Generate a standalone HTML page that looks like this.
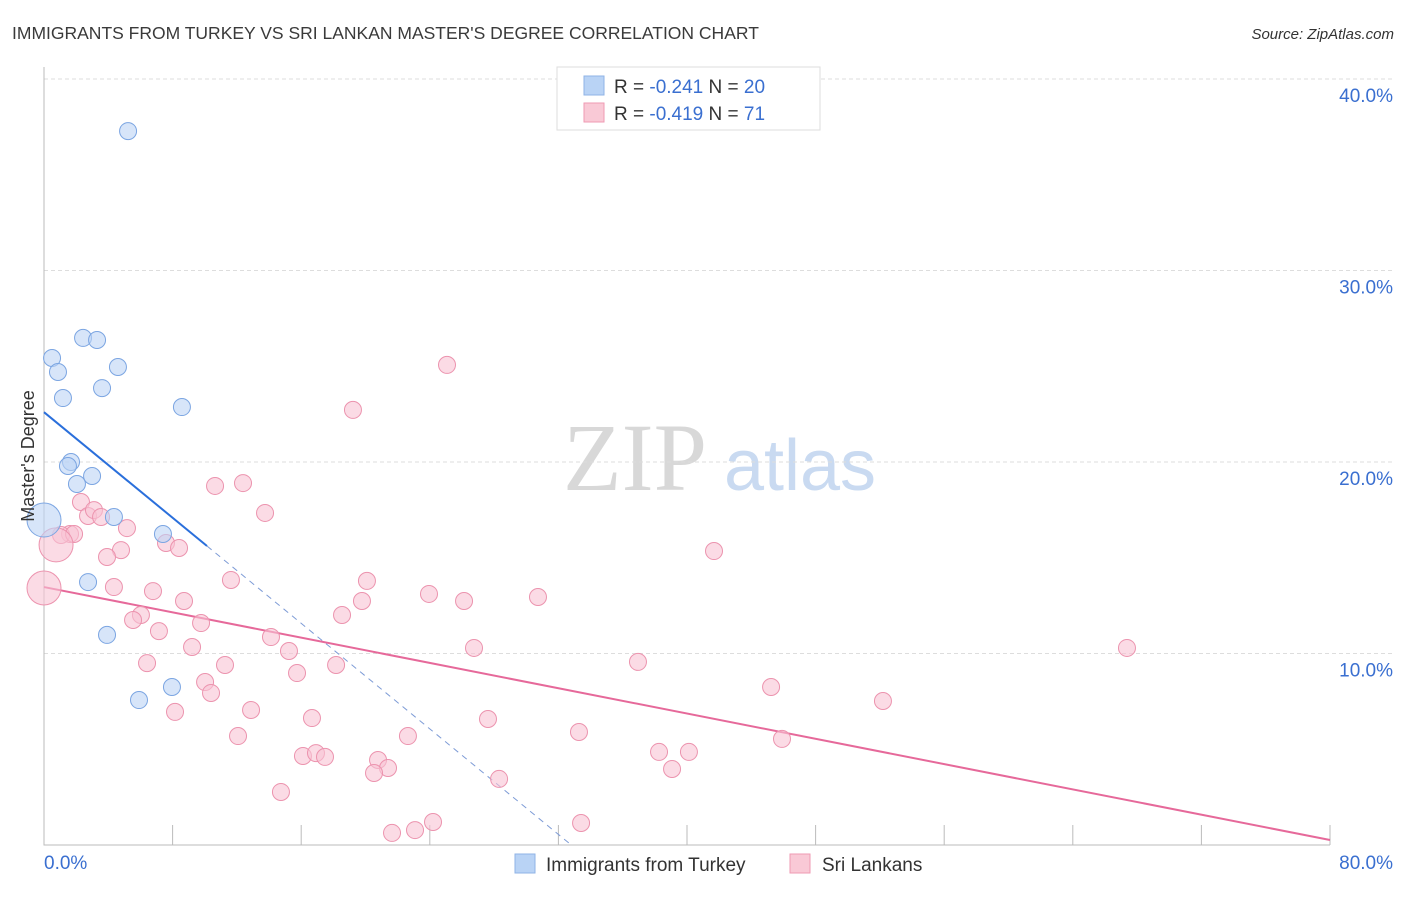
<!DOCTYPE html>
<html><head><meta charset="utf-8"><style>
body{margin:0;background:#fff;width:1406px;height:892px;overflow:hidden;font-family:"Liberation Sans",sans-serif}
</style></head><body>
<svg id="chart" width="1406" height="892" xmlns="http://www.w3.org/2000/svg" font-family="Liberation Sans, sans-serif">
<text x="12" y="39" font-size="17.5" fill="#3a3a3a">IMMIGRANTS FROM TURKEY VS SRI LANKAN MASTER'S DEGREE CORRELATION CHART</text>
<text x="1394" y="39" font-size="15" font-style="italic" fill="#333" text-anchor="end">Source: ZipAtlas.com</text>
<g>
<text x="635" y="490" font-size="96" font-family="Liberation Serif, serif" fill="#d8d8d8" text-anchor="middle">ZIP</text>
<text x="800" y="490" font-size="72" fill="#c9daf1" text-anchor="middle">atlas</text>
</g>
<g id="grid"></g><g id="axes"></g><g id="lines"></g><g id="pts"></g>
<g>
<rect x="557" y="67" width="263" height="63" fill="#fff" stroke="#ddd"/>
<rect x="584" y="76" width="20" height="19" fill="#b9d3f5" stroke="#8fb3e6"/>
<rect x="584" y="103" width="20" height="19" fill="#f9c9d6" stroke="#ef9ab3"/>
<text x="614" y="93" font-size="19" fill="#333">R = <tspan fill="#3a6fd0">-0.241</tspan>   N = <tspan fill="#3a6fd0">20</tspan></text>
<text x="614" y="120" font-size="19" fill="#333">R = <tspan fill="#3a6fd0">-0.419</tspan>   N =  <tspan fill="#3a6fd0">71</tspan></text>
</g>
<g>
<rect x="515" y="854" width="20" height="19" fill="#b9d3f5" stroke="#8fb3e6"/>
<text x="546" y="871" font-size="19" fill="#333">Immigrants from Turkey</text>
<rect x="790" y="854" width="20" height="19" fill="#f9c9d6" stroke="#ef9ab3"/>
<text x="822" y="871" font-size="19" fill="#333">Sri Lankans</text>
</g>
<text transform="translate(34,456) rotate(-90)" font-size="18" fill="#333" text-anchor="middle">Master's Degree</text>
</svg>
<script>
const yTicks=[10,20,30,40];
const yTickLabels=["10.0%","20.0%","30.0%","40.0%"];
const xTickLabels=["0.0%","80.0%"];
const turkeyX=[5.23,0.50,2.43,3.30,0.87,4.60,1.18,3.61,8.58,1.68,1.49,2.99,2.05,4.35,7.40,2.74,3.92,7.96,5.91,0.0];
const turkeyY=[37.28,25.43,26.48,26.37,24.70,24.96,23.34,23.86,22.87,20.00,19.79,19.27,18.85,17.13,16.24,13.73,10.97,8.25,7.57,16.97];
const turkeyBig=[19];
const sriX=[25.07,19.22,12.38,10.64,13.75,2.30,2.74,3.11,3.55,5.16,1.62,1.06,1.87,0.75,0.0,7.59,8.40,4.79,3.92,41.68,11.63,20.09,6.78,4.35,23.95,8.71,19.78,26.13,30.73,6.03,5.54,18.54,9.77,7.15,14.12,15.24,9.21,26.75,18.17,6.41,11.26,36.95,67.37,15.74,10.02,10.39,45.23,52.19,12.88,8.15,16.67,27.62,12.07,22.64,33.28,16.11,16.92,17.48,20.78,21.40,20.53,38.26,40.12,39.07,45.91,28.31,14.74,24.20,23.08,21.65,33.41];
const sriY=[25.07,22.72,18.90,18.75,17.34,17.91,17.18,17.49,17.13,16.55,16.24,16.19,16.24,15.67,13.42,15.77,15.51,15.40,15.04,15.35,13.84,13.79,13.26,13.47,13.11,12.74,12.74,12.74,12.95,12.01,11.75,12.01,11.59,11.17,10.86,10.13,10.34,10.29,9.40,9.50,9.40,9.56,10.29,8.98,8.51,7.94,8.25,7.52,7.05,6.95,6.63,6.58,5.69,5.69,5.90,4.65,4.80,4.60,4.44,4.02,3.76,4.86,4.86,3.97,5.54,3.45,2.77,1.20,0.78,0.63,1.15];
const sriBig=[13,14];
const turkeyTrend=[22.6,-0.689];
const sriTrend=[13.47,-0.1651];
const X=v=>44+v/80*1286, Y=v=>845-v*19.15;
const NS="http://www.w3.org/2000/svg";
function mk(p,t,a){const e=document.createElementNS(NS,t);for(const k in a)e.setAttribute(k,a[k]);document.getElementById(p).appendChild(e);return e;}
yTicks.forEach((t,i)=>{
 const g=mk('grid','line',{x1:44,x2:1393,y1:Y(t),y2:Y(t),stroke:'#ddd','stroke-dasharray':'4,3'});
 
 
 const l=mk('grid','text',{x:1393,y:Y(t)+23,'font-size':19,fill:'#3a6fd0','text-anchor':'end'});
 l.textContent=yTickLabels[i];
 
 
});
const ax=mk('axes','path',{d:'M44 67V845H1330',stroke:'#bbb',fill:'none'});


for(let i=1;i<=10;i++){const t=mk('axes','line',{x1:X(i*8),x2:X(i*8),y1:825,y2:845,stroke:'#bbb'});
 
 }
[[0,'start',44],[1,'end',1393]].forEach(([i,a,x])=>{const t=mk('axes','text',{x:x,y:869,'font-size':19,fill:'#3a6fd0','text-anchor':a});t.textContent=xTickLabels[i];
 
 });
function pts(xs,ys,big,fill,stroke,name){xs.forEach((x,i)=>{const r=big.includes(i)?17:8.5;
 const c=mk('pts','circle',{cx:X(x),cy:Y(ys[i]),r:r,fill:fill,'fill-opacity':0.6,stroke:stroke,'stroke-width':1});
 
 });}
pts(sriX,sriY,sriBig,'#f9c3d3','#ec93ae','sri-lankan-point');
pts(turkeyX,turkeyY,turkeyBig,'#bcd4f5','#7ba5e2','turkey-point');
const x0=10.14,xe=-turkeyTrend[0]/turkeyTrend[1];
const l1=mk('lines','line',{x1:X(0),y1:Y(turkeyTrend[0]),x2:X(x0),y2:Y(turkeyTrend[0]+turkeyTrend[1]*x0),stroke:'#2a6fdb','stroke-width':2});


const l2=mk('lines','line',{x1:X(x0),y1:Y(turkeyTrend[0]+turkeyTrend[1]*x0),x2:X(xe),y2:Y(0),stroke:'#7d9bd6','stroke-width':1,'stroke-dasharray':'6,5'});


const l3=mk('lines','line',{x1:X(0),y1:Y(sriTrend[0]),x2:X(80),y2:Y(sriTrend[0]+sriTrend[1]*80),stroke:'#e6699a','stroke-width':2});


</script>
</body></html>
